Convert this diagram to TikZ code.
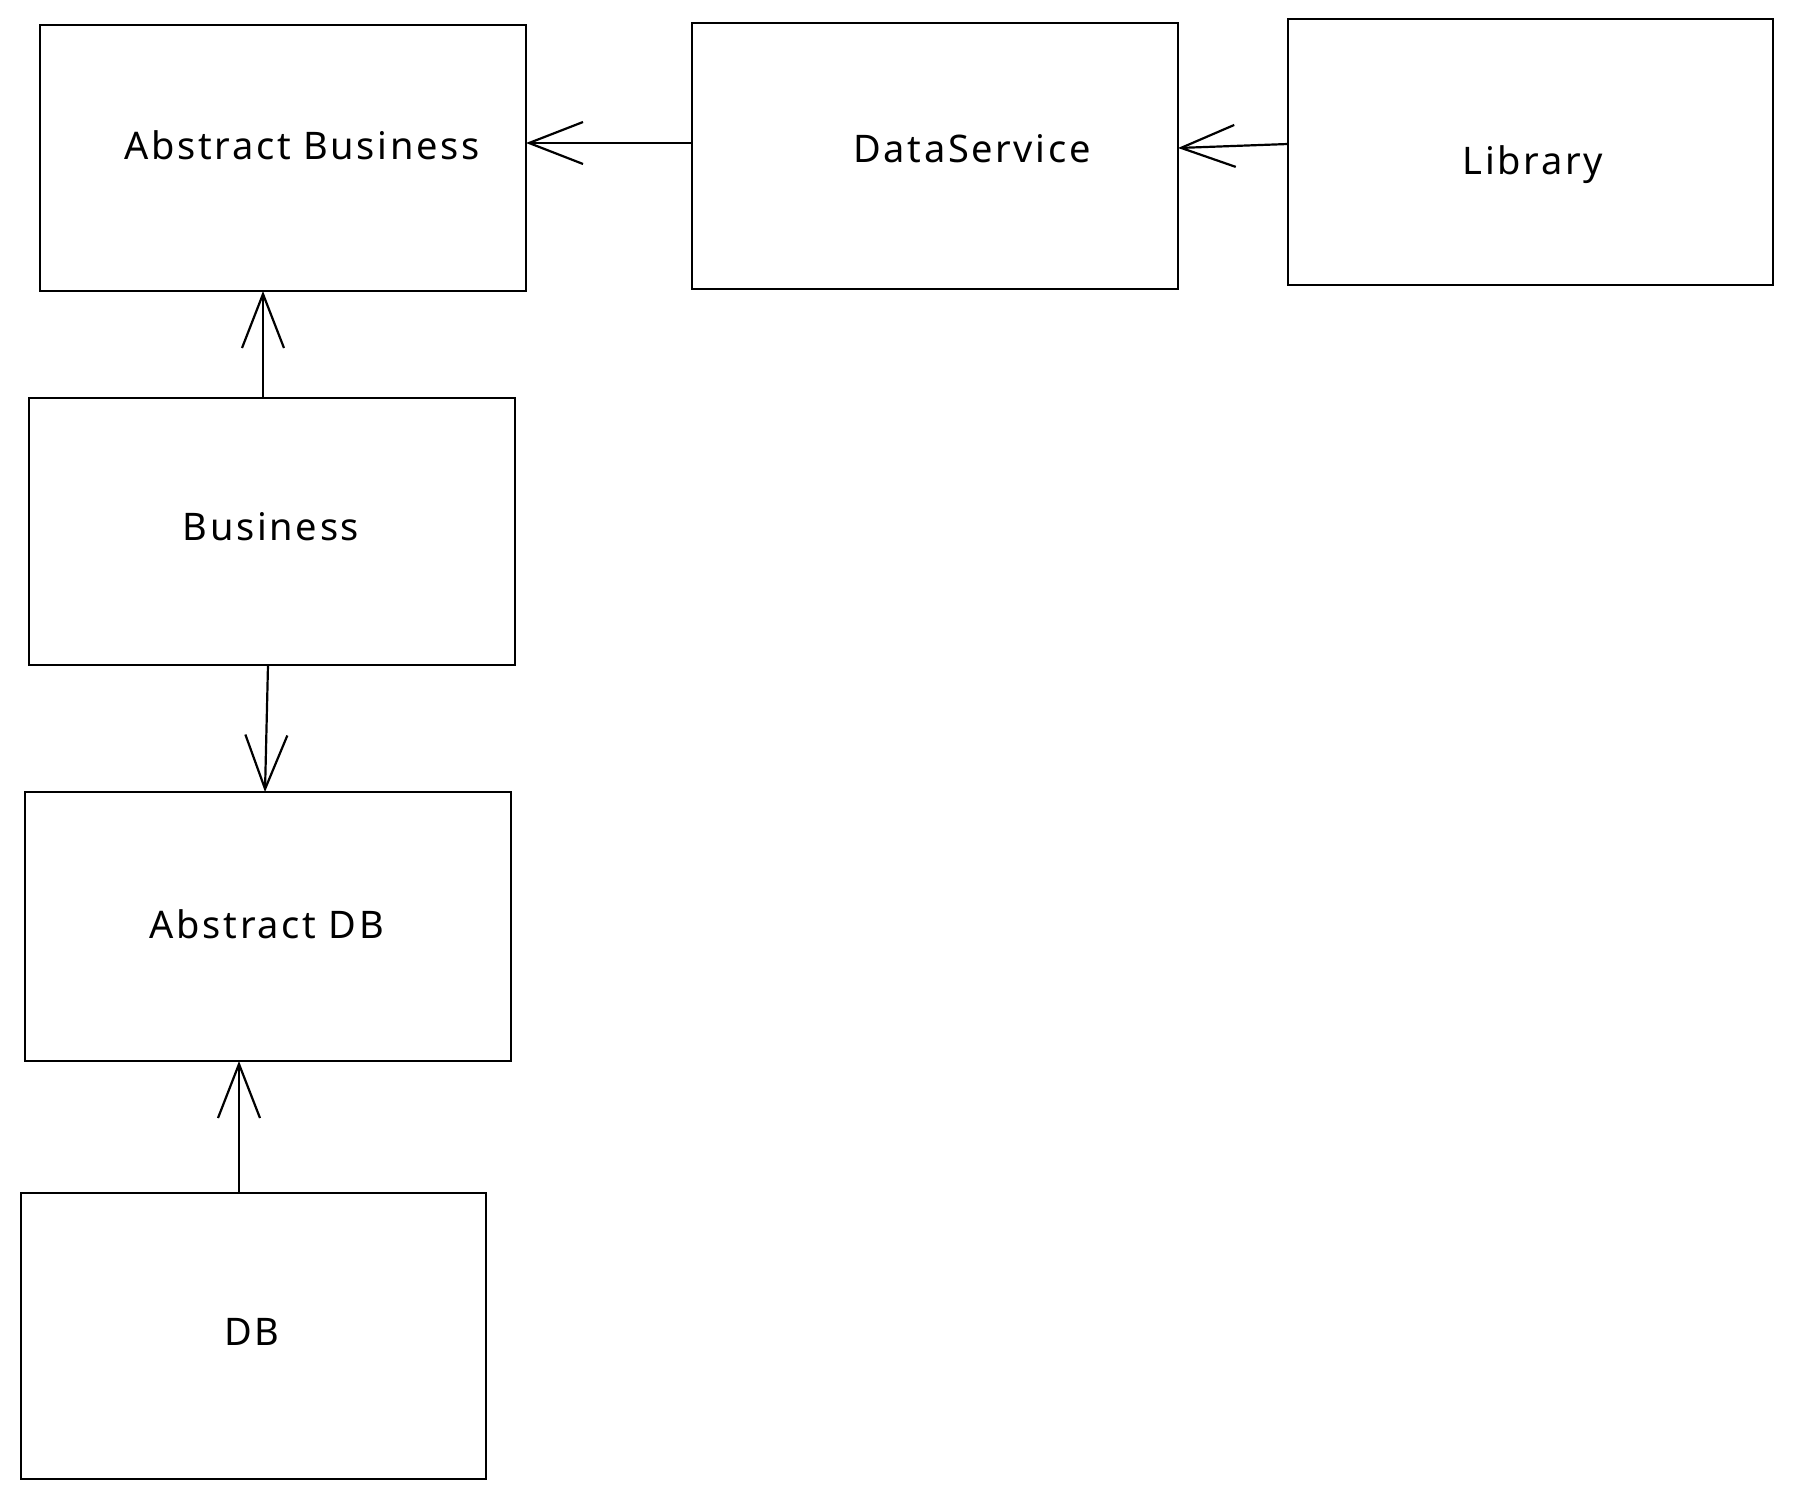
\documentclass[tikz,border=0pt]{standalone}
\usepackage{fontspec}
\setmainfont{Noto Sans}[LetterSpace=7]
\usetikzlibrary{arrows.meta}
\begin{document}
\begin{tikzpicture}[x=1pt,y=-1pt,
  box/.style={draw=black, line width=2.2pt, rectangle, inner sep=0pt, outer sep=0pt},
  lbl/.style={font=\fontsize{38}{44}\selectfont, inner sep=0pt},
  arr/.style={draw=black, line width=2.2pt, -{Straight Barb[length=54pt,width=42pt,line width=2.2pt]}}]
\useasboundingbox[fill=white] (0,0) rectangle (1794,1499);
\node[box, minimum width=486pt, minimum height=266pt] (ab)  at (283,158) {};
\node[box, minimum width=486pt, minimum height=266pt] (ds)  at (935,156) {};
\node[box, minimum width=485pt, minimum height=266pt] (lib) at (1530.5,152) {};
\node[box, minimum width=486pt, minimum height=267pt] (bus) at (272,531.5) {};
\node[box, minimum width=486pt, minimum height=269pt] (adb) at (268,926.5) {};
\node[box, minimum width=465pt, minimum height=286pt] (db)  at (253.5,1336) {};
\node[lbl] (tab)  at (302,145) {Abstract Business};
\node[lbl] (tds)  at (972,149) {DataService};
\node[lbl] (tlib) at (1533,165) {Library};
\node[lbl] (tbus) at (271,527) {Business};
\node[lbl] (tadb) at (267,924) {Abstract DB};
\node[lbl] (tdb)  at (252,1332) {DB};
\draw[arr] ([yshift=8pt]lib.west) -- ([yshift=8pt]ds.east);
\draw[arr] ([yshift=13pt]ds.west) -- ([yshift=15pt]ab.east);
\draw[arr] ([xshift=-9pt]bus.north) -- ([xshift=-20pt]ab.south);
\draw[arr] ([xshift=-4pt]bus.south) -- ([xshift=-3pt]adb.north);
\draw[arr] ([xshift=-14.5pt]db.north) -- ([xshift=-29pt]adb.south);
\end{tikzpicture}
\end{document}
